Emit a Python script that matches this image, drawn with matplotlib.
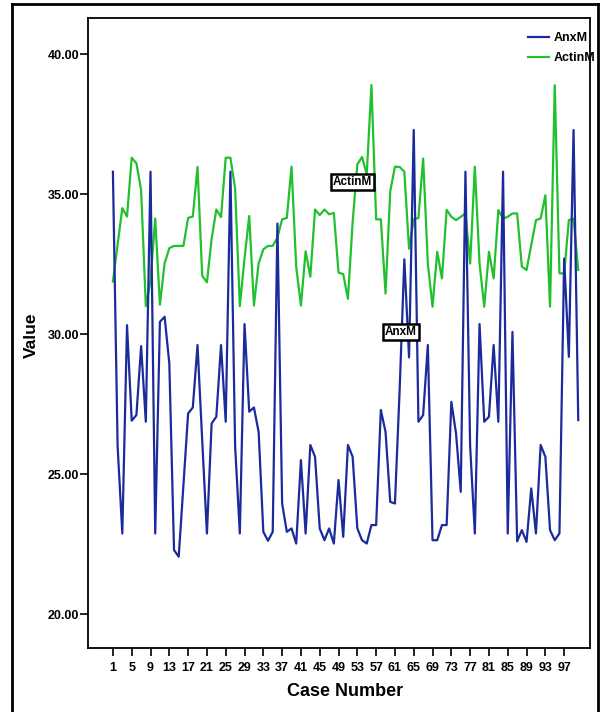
import matplotlib
matplotlib.use("Agg")
import matplotlib.pyplot as plt
from matplotlib.lines import Line2D
from matplotlib import font_manager

plt.rcParams['font.family'] = ['Liberation Sans', 'DejaVu Sans']

names = {f.name for f in font_manager.fontManager.ttflist}
narrow = 'Liberation Sans Narrow' if 'Liberation Sans Narrow' in names else 'Liberation Sans'

cases = list(range(1, 101))

anxm = [35.80, 26.0, 22.88, 30.32, 26.91, 27.11, 29.57, 26.87, 35.80, 22.88,
        30.44, 30.62, 28.95, 22.29, 22.05, 24.6, 27.17, 27.38, 29.61, 26.2,
        22.88, 26.81, 27.05, 29.61, 26.87, 35.80, 26.0, 22.88, 30.36, 27.23,
        27.38, 26.51, 22.94, 22.62, 22.94, 33.95, 23.95, 22.94, 23.06, 22.52,
        25.5, 22.88, 26.04, 25.62, 23.06, 22.64, 23.06, 22.52, 24.79, 22.76,
        26.04, 25.62, 23.06, 22.64, 22.52, 23.18, 23.18, 27.29, 26.51, 24.01,
        23.95, 28.0, 32.67, 29.17, 37.29, 26.87, 27.11, 29.61, 22.64, 22.64,
        23.18, 23.18, 27.58, 26.45, 24.37, 35.80, 26.0, 22.88, 30.36, 26.87,
        27.05, 29.61, 26.87, 35.80, 22.88, 30.08, 22.6, 23.0, 22.58, 24.49,
        22.88, 26.04, 25.62, 23.0, 22.64, 22.88, 32.70, 29.19, 37.29, 26.93]

actinm = [31.88, 33.2, 34.5, 34.2, 36.3, 36.1, 35.15, 31.0, 31.9, 34.13,
          31.05, 32.53, 33.07, 33.15, 33.15, 33.15, 34.15, 34.2, 35.97, 32.08,
          31.85, 33.4, 34.45, 34.18, 36.3, 36.3, 35.2, 31.0, 32.7, 34.22,
          31.02, 32.52, 33.03, 33.15, 33.15, 33.45, 34.1, 34.15, 35.98, 32.4,
          31.02, 32.96, 32.05, 34.45, 34.25, 34.45, 34.28, 34.33, 32.2, 32.14,
          31.26, 34.0, 36.06, 36.33, 35.7, 38.9, 34.1, 34.1, 31.45, 35.1,
          35.98, 35.97, 35.8, 33.05, 34.1, 34.15, 36.27, 32.52, 30.98, 32.94,
          31.99, 34.44, 34.19, 34.07, 34.19, 34.31, 32.52, 35.98, 32.52, 30.98,
          32.94, 31.99, 34.43, 34.13, 34.19, 34.31, 34.31, 32.41, 32.29, 33.18,
          34.07, 34.13, 34.96, 30.98, 38.89, 32.17, 32.17, 34.07, 34.13, 32.29]

series_names = ["AnxM", "ActinM"]
series_colors = ["#1b2b9c", "#22c02e"]
xtick_vals = list(range(1, 98, 4))
ytick_vals = [20, 25, 30, 35, 40]

W, H = 602, 712
fig = plt.figure(figsize=(W / 100, H / 100), dpi=100)
ax = fig.add_axes([88 / W, 1 - 648 / H, (590 - 88) / W, (648 - 18) / H])

ax.plot(cases, anxm, color=series_colors[0], lw=1.6, label=series_names[0], zorder=3)
ax.plot(cases, actinm, color=series_colors[1], lw=1.6, label=series_names[1], zorder=2)

ax.set_xlim(-4.3, 102.5)
ax.set_ylim(18.79, 41.29)
ax.set_xticks(xtick_vals)
ax.set_xticklabels([str(v) for v in xtick_vals], fontsize=9, fontweight='bold',
                   family=[narrow, 'Liberation Sans'])
ax.set_yticks(ytick_vals)
ax.set_yticklabels([f"{v:.2f}" for v in ytick_vals], fontsize=9, fontweight='bold',
                   family=[narrow, 'Liberation Sans'])
ax.tick_params(axis='both', direction='out', length=6, width=1.2, color='black')
ax.tick_params(axis='x', pad=4)
ax.tick_params(axis='y', pad=0.5)
for s in ax.spines.values():
    s.set_linewidth(1.3)

ax.set_xlabel("Case Number", fontsize=13, fontweight='bold')
ax.set_ylabel("Value", fontsize=12.5, fontweight='bold')
ax.xaxis.set_label_coords((345 - 88) / 502, (648 - 692) / 630)
ax.yaxis.set_label_coords((31 - 88) / 502, (648 - 335) / 630)
ax.xaxis.label.set_va('center')
ax.yaxis.label.set_va('center')

bbox = dict(boxstyle='square,pad=0.15', fc='white', ec='black', lw=1.8)
ax.text(51.9, 35.43, "ActinM", ha='center', va='center', fontsize=8.5,
        fontweight='bold', bbox=bbox, zorder=5)
ax.text(62.3, 30.07, "AnxM", ha='center', va='center', fontsize=8.5,
        fontweight='bold', bbox=bbox, zorder=5)

leg = ax.legend(loc='upper right', bbox_to_anchor=(595 / W, 1 - 32 / H),
                bbox_transform=fig.transFigure, frameon=False,
                prop={'size': 9, 'weight': 'bold'}, handlelength=1.7,
                handletextpad=0.35, labelspacing=0.65, borderpad=0, borderaxespad=0)

# outer frame of the figure
fig.add_artist(Line2D([12 / W, 12 / W], [0, 1 - 4 / H], transform=fig.transFigure, color='black', lw=2))
fig.add_artist(Line2D([12 / W, 598 / W], [1 - 4 / H, 1 - 4 / H], transform=fig.transFigure, color='black', lw=2))
fig.add_artist(Line2D([598 / W, 598 / W], [0, 1 - 4 / H], transform=fig.transFigure, color='black', lw=2))

fig.savefig("out.png", dpi=100)
